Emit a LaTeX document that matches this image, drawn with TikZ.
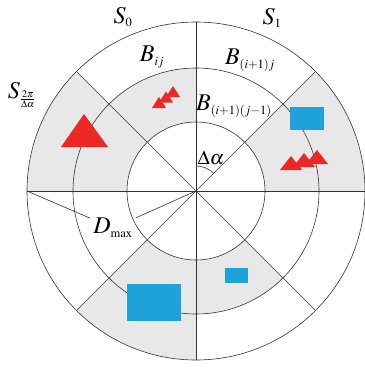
\documentclass[tikz,border=0pt]{standalone}
\usepackage{mathptmx}
\usepackage{tikz}
\DeclareMathSizes{24}{24}{12.5}{10}

\definecolor{secgray}{RGB}{232,232,232}
\definecolor{trired}{RGB}{236,40,36}
\definecolor{boxblue}{RGB}{31,161,219}

\begin{document}
\begin{tikzpicture}[x=1pt,y=1pt,
    grid/.style={black!80, line width=0.6pt},
    shade/.style={fill=secgray},
    lbl/.style={font=\fontsize{24}{28}\selectfont, inner sep=1pt},
    redtri/.style={fill=trired},
    bluebox/.style={fill=boxblue}]

    % Bounding box
    \useasboundingbox (-196,-177) rectangle (169,191);

    % Shaded sectors (middle and outer ring)
    \foreach \a in {0,135,-135}
        \fill[shade] (\a:69) arc[start angle=\a, end angle=\a+45, radius=69]
            -- ({\a+45}:169) arc[start angle=\a+45, end angle=\a, radius=169] -- cycle;
    % Shaded sectors (middle ring only)
    \foreach \a in {90,-90}
        \fill[shade] (\a:69) arc[start angle=\a, end angle=\a+45, radius=69]
            -- ({\a+45}:123) arc[start angle=\a+45, end angle=\a, radius=123] -- cycle;

    % Rings
    \foreach \r in {69,123,169}
        \draw[grid] (0,0) circle[radius=\r];
    % Spokes
    \foreach \a in {0,45,90,135}
        \draw[grid] (\a:169) -- ({\a+180}:169);

    \coordinate (O) at (0,0);
    \coordinate (L) at (180:169);

    % Angle step
    \draw[grid] (90:25) arc[start angle=90, end angle=45, radius=25];
    \node[lbl, font=\fontsize{20}{24}\selectfont] (da) at (15,33) {$\Delta\alpha$};

    % Sector and bin labels
    \node[lbl] (S0) at (-73,174) {$S_0$};
    \node[lbl] (S1) at (76,173) {$S_1$};
    \node[lbl] (Sn) at (-174,96) {$S_{\frac{2\pi}{\Delta\alpha}}$};
    \node[lbl] (Bij) at (-44,134) {$B_{ij}$};
    \node[lbl] (Bi1j) at (54,131) {$B_{(i+1)j}$};
    \node[lbl] (Bi1j1) at (38,85) {$B_{(i+1)(j-1)}$};

    % Maximum range
    \node[lbl, outer sep=2pt] (Dmax) at (-83,-37) {$D_{\max}$};
    \draw[grid] (L) -- (Dmax);
    \draw[grid] (O) -- (Dmax);

    % Obstacles: triangles
    \fill[redtri] (-135,44) -- (-88,44) -- (-112,77) -- cycle;
    \foreach \i in {0,1,2}
        \fill[redtri] ({-44+7*\i},{83+5.5*\i}) -- ++(14,0) -- ++(-7,11) -- cycle;
    \foreach \i in {0,1,2}
        \fill[redtri] ({84+13*\i},{21+3*\i}) -- ++(22,0) -- ++(-11,14) -- cycle;

    % Obstacles: boxes
    \fill[bluebox] (94,61) rectangle (128,84);
    \fill[bluebox] (29,-92) rectangle (52,-77);
    \fill[bluebox] (-69,-130) rectangle (-15,-93);

\end{tikzpicture}
\end{document}
